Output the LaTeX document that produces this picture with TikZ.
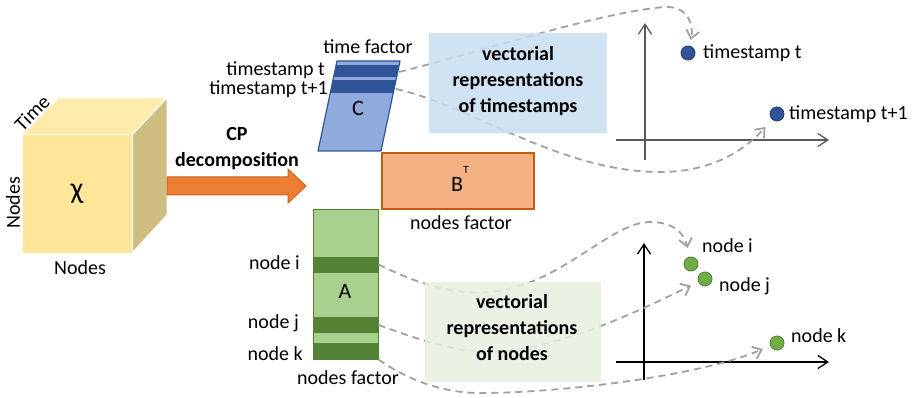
\documentclass[tikz,border=0pt]{standalone}
\usepackage{fontspec}
\setmainfont{Carlito}
\usetikzlibrary{arrows.meta}
\definecolor{cubefront}{RGB}{255,230,153}
\definecolor{cubetop}{RGB}{255,235,170}
\definecolor{cubeside}{RGB}{207,189,130}
\definecolor{orangeA}{RGB}{237,125,49}
\definecolor{orangeB}{RGB}{205,100,30}
\definecolor{cblue}{RGB}{143,170,220}
\definecolor{cdark}{RGB}{47,85,151}
\definecolor{borange}{RGB}{244,177,131}
\definecolor{borangeb}{RGB}{197,90,17}
\definecolor{agreen}{RGB}{169,209,142}
\definecolor{adark}{RGB}{84,130,53}
\definecolor{boxblue}{RGB}{200,222,241}
\definecolor{boxgreen}{RGB}{230,241,222}
\definecolor{dashgray}{RGB}{160,160,160}
\definecolor{axgray}{RGB}{89,89,89}
\definecolor{dotblue}{RGB}{47,85,151}
\definecolor{dotblueb}{RGB}{32,56,100}
\definecolor{dotgreen}{RGB}{112,173,71}
\definecolor{dotgreenb}{RGB}{80,126,50}
\begin{document}
\begin{tikzpicture}[x=1pt,y=-1pt,
  lbl/.style={font=\fontsize{20}{24}\selectfont, inner sep=0pt},
  boldtxt/.style={font=\fontsize{20}{26}\selectfont\bfseries, align=center, inner sep=0pt},
  dline/.style={draw=dashgray, line width=1.8pt, dash pattern=on 7pt off 5pt, -{Straight Barb[length=8pt,width=13pt]}},
  axis/.style={line width=1.3pt, -{Straight Barb[length=10pt,width=13pt]}},
  tdot/.style={circle, minimum size=14pt, inner sep=0pt, fill=dotblue, draw=dotblueb, line width=0.8pt},
  ndot/.style={circle, minimum size=14pt, inner sep=0pt, fill=dotgreen, draw=dotgreenb, line width=0.8pt},
  aband/.style={draw=adark, fill=adark, minimum width=65pt, minimum height=15pt, inner sep=0pt, line width=1pt},
]
\path[use as bounding box] (0,0) rectangle (915,398);

% cube
\fill[cubetop, draw=white, line width=1pt] (22,135) -- (58,98) -- (167,98) -- (132,135) -- cycle;
\fill[cubeside, draw=white, line width=1pt] (132,135) -- (167,98) -- (167,215) -- (132,253) -- cycle;
\node[fill=cubefront, draw=white, line width=1pt, minimum width=110pt, minimum height=118pt, inner sep=0pt, font=\fontsize{30}{30}\selectfont] (X) at (77,194) {χ};
\node[lbl, rotate=45] (ltime) at (32,113) {Time};
\node[lbl, rotate=90] (lnodes1) at (13,203) {Nodes};
\node[lbl] (lnodes2) at (80,268) {Nodes};

% CP arrow
\draw[fill=orangeA, draw=orangeB, line width=1pt] (167,177) -- (288,177) -- (288,169) -- (306,186) -- (288,203) -- (288,195) -- (167,195) -- cycle;
\node[boldtxt] (cp) at (237,149) {CP\\decomposition};

% C factor
\begin{scope}
\clip (337,61) -- (400,61) -- (381,151) -- (318,151) -- cycle;
\fill[cblue] (300,55) rectangle (410,160);
\fill[cdark] (300,65) rectangle (410,77);
\fill[cdark] (300,80) rectangle (410,93);
\end{scope}
\draw[cdark, line width=1.2pt, line join=round] (337,61) -- (400,61) -- (381,151) -- (318,151) -- cycle;
\coordinate (ct) at (399,72);
\coordinate (cs) at (396,89);
\node[font=\fontsize{22}{22}\selectfont] (C) at (358,108) {C};
\node[lbl] (tf) at (368,47) {time factor};
\node[lbl, anchor=east] (lt1) at (325,70) {timestamp t};
\node[lbl, anchor=east] (lt2) at (328,89) {timestamp t+1};

% B factor
\node[draw=borangeb, fill=borange, line width=1.2pt, minimum width=152pt, minimum height=56pt, inner sep=0pt] (Bbox) at (458,181) {};
\node[font=\fontsize{22}{22}\selectfont] (B) at (457,184) {B};
\node[font=\fontsize{11}{11}\selectfont] (BT) at (466,170) {T};
\node[lbl] (nfB) at (461,223) {nodes factor};

% A factor
\node[draw=adark, fill=agreen, line width=1pt, minimum width=65pt, minimum height=150pt, inner sep=0pt] (Abox) at (345.5,284) {};
\node[aband] (Ai) at (345.5,264.5) {};
\node[aband] (Aj) at (345.5,325) {};
\node[aband, minimum height=16pt] (Ak) at (345.5,351) {};
\node[font=\fontsize{22}{22}\selectfont] (A) at (345,291) {A};
\node[lbl, anchor=east] (lni) at (300,263) {node i};
\node[lbl, anchor=east] (lnj) at (299,323) {node j};
\node[lbl, anchor=east] (lnk) at (303,354) {node k};
\node[lbl] (nfA) at (348,378) {nodes factor};

% axes
\draw[axis, draw=axgray] (616,140) -- (829,140);
\draw[axis, draw=axgray] (645,160) -- (645,23);
\draw[axis, draw=black] (616,362) -- (829,362);
\draw[axis, draw=black] (644,380) -- (644,243);

% dots
\node[tdot] (dt1) at (688,53) {};
\node[tdot] (dt2) at (777,114) {};
\node[ndot] (di) at (691,264) {};
\node[ndot] (dj) at (705,279) {};
\node[ndot] (dk) at (777,343) {};
\node[lbl, anchor=west] (ldt1) at (703,53) {timestamp t};
\node[lbl, anchor=west] (ldt2) at (789,114) {timestamp t+1};
\node[lbl, anchor=west] (ldi) at (702,246) {node i};
\node[lbl, anchor=west] (ldj) at (719,286) {node j};
\node[lbl, anchor=west] (ldk) at (791,336) {node k};

% dashed connectors
\draw[dline, shorten >=6pt] (ct) .. controls (480,52) and (600,12) .. (665,7) .. controls (688,6) and (694,25) .. (dt1);
\draw[dline, shorten >=10pt] (cs) .. controls (470,105) and (560,172) .. (660,172) .. controls (712,172) and (745,150) .. (dt2);
\draw[dline, shorten >=9pt] (Ai.east) .. controls (420,285) and (455,295) .. (490,292) .. controls (560,286) and (610,222) .. (650,222) .. controls (672,222) and (684,232) .. (di);
\draw[dline, shorten >=8pt] (Aj.east) .. controls (420,340) and (455,352) .. (490,352) .. controls (560,350) and (640,310) .. (dj);
\draw[dline, shorten >=8pt] (Ak.south east) .. controls (405,378) and (440,393) .. (480,393) .. controls (560,393) and (700,376) .. (dk);

% representation boxes
\fill[boxblue, fill opacity=0.85] (429,33) rectangle (607,133);
\node[boldtxt] (vt) at (518,81) {vectorial\\representations\\of timestamps};
\fill[boxgreen, fill opacity=0.85] (425,282) rectangle (601,382);
\node[boldtxt] (vn) at (512,328) {vectorial\\representations\\of nodes};
\end{tikzpicture}
\end{document}
